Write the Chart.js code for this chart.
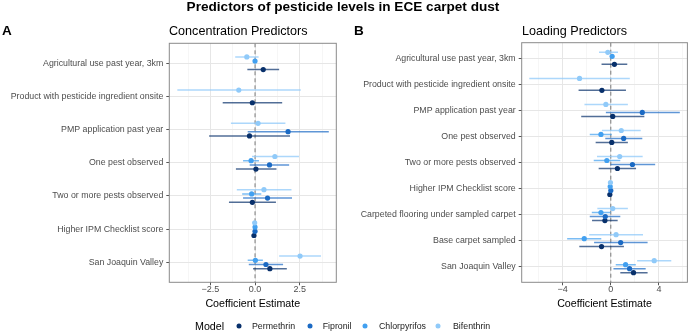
<!DOCTYPE html>
<html>
<head>
<script src="https://cdn.jsdelivr.net/npm/chart.js"></script>
<style>
  body { margin: 0; background: #fff; font-family: "Liberation Sans", Arial, sans-serif; }
  #wrap { position: relative; width: 690px; height: 334px; overflow: hidden; }
  canvas { position: absolute; top: 0; }
  .txt { position: absolute; white-space: nowrap; line-height: 1; transform: translateY(-50%); }
  .dot { position: absolute; width: 5px; height: 5px; border-radius: 50%; transform: translate(-50%, -50%); }
</style>
</head>
<body>
<div id="wrap">
  <canvas id="chartA" width="345" height="334" style="left:0"></canvas>
  <canvas id="chartB" width="345" height="334" style="left:345px"></canvas>

  <div class="txt" style="left:0;width:686px;text-align:center;top:7px;font-size:13.6px;font-weight:bold">Predictors of pesticide levels in ECE carpet dust</div>
  <div class="txt" style="left:2px;top:31px;font-size:13.5px;font-weight:bold">A</div>
  <div class="txt" style="left:169px;top:31px;font-size:12.6px">Concentration Predictors</div>
  <div class="txt" style="left:354px;top:31px;font-size:13.5px;font-weight:bold">B</div>
  <div class="txt" style="left:522px;top:31px;font-size:12.6px">Loading Predictors</div>

  <div id="legend"></div>
</div>

<script>
// series names and colours
const seriesNames = ['Permethrin', 'Fipronil', 'Chlorpyrifos', 'Bifenthrin'];
const seriesColors = ['#08306b', '#1b6ac4', '#42a0f0', '#90caf9'];
const seriesLines = ['rgba(8,48,107,0.7)', 'rgba(27,106,196,0.7)', 'rgba(66,160,240,0.7)', 'rgba(144,202,249,0.75)'];
// position inside each row: Bifenthrin on top, Permethrin at the bottom
const dodgeSlot = [1.5, 0.5, -0.5, -1.5];

// ---- panel A: concentration ----
const catsA = ['Agricultural use past year, 3km', 'Product with pesticide ingredient onsite', 'PMP application past year',
  'One pest observed', 'Two or more pests observed', 'Higher IPM Checklist score', 'San Joaquin Valley'];

const permEstA = [0.46, -0.15, -0.31, 0.05, -0.15, -0.06, 0.83];
const permLoA  = [-0.43, -1.81, -2.57, -1.07, -1.46, -0.09, -0.11];
const permHiA  = [1.35, 1.52, 1.96, 1.20, 1.17, -0.03, 1.78];

const fipEstA = [null, null, 1.85, 0.81, 0.70, 0.00, 0.61];
const fipLoA  = [null, null, -0.41, -0.30, -0.67, -0.03, -0.35];
const fipHiA  = [null, null, 4.13, 1.91, 2.07, 0.03, 1.57];

const chlEstA = [0.00, null, null, -0.22, -0.19, 0.00, 0.02];
const chlLoA  = [-0.05, null, null, -0.67, -0.72, -0.03, -0.41];
const chlHiA  = [0.05, null, null, 0.22, 0.35, 0.03, 0.44];

const bifEstA = [-0.46, -0.91, 0.17, 1.11, 0.50, -0.02, 2.52];
const bifLoA  = [-1.11, -4.35, -1.35, -0.17, -1.02, -0.05, 1.35];
const bifHiA  = [0.20, 2.56, 1.70, 2.46, 2.04, 0.01, 3.69];

const xTicksA = [-3.75, -2.5, -1.25, 0, 1.25, 2.5, 3.75];
const xLabelsA = [-2.5, 0, 2.5];

// ---- panel B: loading ----
const catsB = ['Agricultural use past year, 3km', 'Product with pesticide ingredient onsite', 'PMP application past year',
  'One pest observed', 'Two or more pests observed', 'Higher IPM Checklist score',
  'Carpeted flooring under sampled carpet', 'Base carpet sampled', 'San Joaquin Valley'];

const permEstB = [0.30, -0.74, 0.16, 0.08, 0.55, -0.08, -0.49, -0.77, 1.89];
const permLoB  = [-0.77, -2.68, -2.46, -1.26, -1.01, -0.11, -1.56, -2.62, 0.79];
const permHiB  = [1.37, 1.26, 2.79, 1.42, 2.10, -0.05, 0.57, 1.09, 3.06];

const fipEstB = [null, null, 2.62, 1.07, 1.80, 0.00, -0.46, 0.82, 1.56];
const fipLoB  = [null, null, -0.41, -0.46, -0.03, -0.03, -1.75, -1.39, 0.22];
const fipHiB  = [null, null, 5.74, 2.62, 3.69, 0.03, 0.79, 3.06, 2.90];

const chlEstB = [0.11, null, null, -0.82, -0.33, -0.05, -0.82, -2.21, 1.23];
const chlLoB  = [0.01, null, null, -1.75, -1.42, -0.08, -1.58, -3.63, 0.41];
const chlHiB  = [0.21, null, null, 0.08, 0.79, -0.02, 0.00, -0.79, 2.08];

const bifEstB = [-0.25, -2.60, -0.41, 0.87, 0.74, -0.03, 0.16, 0.44, 3.61];
const bifLoB  = [-0.98, -6.78, -2.19, -0.74, -1.15, -0.06, -1.12, -1.80, 2.19];
const bifHiB  = [0.60, 1.58, 1.42, 2.49, 2.65, 0.00, 1.42, 2.68, 5.03];

const xTicksB = [-6, -4, -2, 0, 2, 4, 6];
const xLabelsB = [-4, 0, 4];

const panelBorder = {
  id: 'panelBorder',
  afterDraw(chart) {
    const a = chart.chartArea, ctx = chart.ctx;
    ctx.save();
    ctx.strokeStyle = '#8a8a8a';
    ctx.lineWidth = 1;
    ctx.strokeRect(a.left, a.top, a.right - a.left, a.bottom - a.top);
    ctx.restore();
  }
};

function makePanel(id, cats, est, lo, hi, xMin, xMax, xTicks, xLabels, dodge, yWidth, padTop, padRight) {
  const n = cats.length;
  const pointSets = [], barSets = [];
  est.forEach((vals, s) => {
    const pts = [], bars = [];
    vals.forEach((v, i) => {
      if (v === null) return;
      const y = i + 1 + dodgeSlot[s] * dodge;
      pts.push({x: v, y: y});
      bars.push({x: lo[s][i], y: y}, {x: hi[s][i], y: y}, {x: hi[s][i], y: null});
    });
    pointSets.push({label: seriesNames[s], data: pts, pointRadius: 2.6, pointHoverRadius: 2.6,
      backgroundColor: seriesColors[s], borderWidth: 0});
    barSets.push({label: seriesNames[s] + ' CI', data: bars, showLine: true, pointRadius: 0,
      borderColor: seriesLines[s], borderWidth: 1.5});
  });
  const zeroLine = {label: 'zero', data: [{x: 0, y: 0.4}, {x: 0, y: n + 0.6}], showLine: true,
    pointRadius: 0, borderColor: '#7a7a7a', borderWidth: 1, borderDash: [4, 3]};

  new Chart(document.getElementById(id), {
    type: 'scatter',
    data: {datasets: pointSets.reverse().concat(barSets.reverse(), [zeroLine])},
    plugins: [panelBorder],
    options: {
      responsive: false,
      animation: false,
      layout: {padding: {left: 0, right: padRight, top: padTop, bottom: 24}},
      plugins: {legend: {display: false}, tooltip: {enabled: false}},
      scales: {
        x: {
          type: 'linear', min: xMin, max: xMax,
          afterBuildTicks: (scale) => { scale.ticks = xTicks.map(v => ({value: v})); },
          afterFit: (scale) => { scale.height = 334 - 24 - 282.3; },
          border: {display: false},
          grid: {
            color: (c) => xLabels.includes(c.tick && c.tick.value) ? '#e6e6e6' : '#f2f2f2',
            lineWidth: (c) => xLabels.includes(c.tick && c.tick.value) ? 1 : 0.7,
            tickColor: (c) => xLabels.includes(c.tick && c.tick.value) ? '#555' : 'rgba(0,0,0,0)',
            tickLength: 3
          },
          ticks: {
            autoSkip: false, maxRotation: 0, padding: 0, color: '#4d4d4d',
            font: {family: 'Liberation Sans', size: 9, lineHeight: 1},
            callback: (v) => xLabels.includes(v) ? (v === 0 ? (xLabels[1] === 0 && xLabels[0] % 1 ? '0.0' : '0') : (xLabels[0] % 1 ? v.toFixed(1) : String(v))).replace('-', '\u2212') : ''
          },
          title: {display: true, text: 'Coefficient Estimate', color: '#000', padding: 0,
            font: {family: 'Liberation Sans', size: 10.7, lineHeight: 1.2}}
        },
        y: {
          type: 'linear', reverse: true, min: 0.4, max: n + 0.6,
          afterBuildTicks: (scale) => { scale.ticks = cats.map((c, i) => ({value: i + 1})); },
          afterFit: (scale) => { scale.width = yWidth; },
          border: {display: false},
          grid: {color: '#e6e6e6', lineWidth: 1, tickColor: '#555', tickLength: 3},
          ticks: {
            autoSkip: false, padding: 3, color: '#4d4d4d',
            font: {family: 'Liberation Sans', size: 8.8},
            callback: (v) => cats[v - 1]
          }
        }
      }
    }
  });
}

makePanel('chartA', catsA,
  [permEstA, fipEstA, chlEstA, bifEstA], [permLoA, fipLoA, chlLoA, bifLoA], [permHiA, fipHiA, chlHiA, bifHiA],
  -4.8, 4.55, xTicksA, xLabelsA, 0.127, 169.3, 43.3, 345 - 336.3);

makePanel('chartB', catsB,
  [permEstB, fipEstB, chlEstB, bifEstB], [permLoB, fipLoB, chlLoB, bifLoB], [permHiB, fipHiB, chlHiB, bifHiB],
  -7.41, 6.37, xTicksB, xLabelsB, 0.153, 521.7 - 345, 42.7, 1);

// legend along the bottom
const legendDotX = [238.5, 309.5, 365, 437.5];
const legendTextX = [252, 322.7, 379, 453];
const legend = document.getElementById('legend');
let html = '<div class="txt" style="left:195px;top:326px;font-size:10.7px">Model</div>';
seriesNames.forEach((name, s) => {
  html += `<span class="dot" style="left:${legendDotX[s]}px;top:326px;background:${seriesColors[s]}"></span>`;
  html += `<div class="txt" style="left:${legendTextX[s]}px;top:326px;font-size:8.8px;color:#1a1a1a">${name}</div>`;
});
legend.innerHTML = html;
</script>
</body>
</html>
